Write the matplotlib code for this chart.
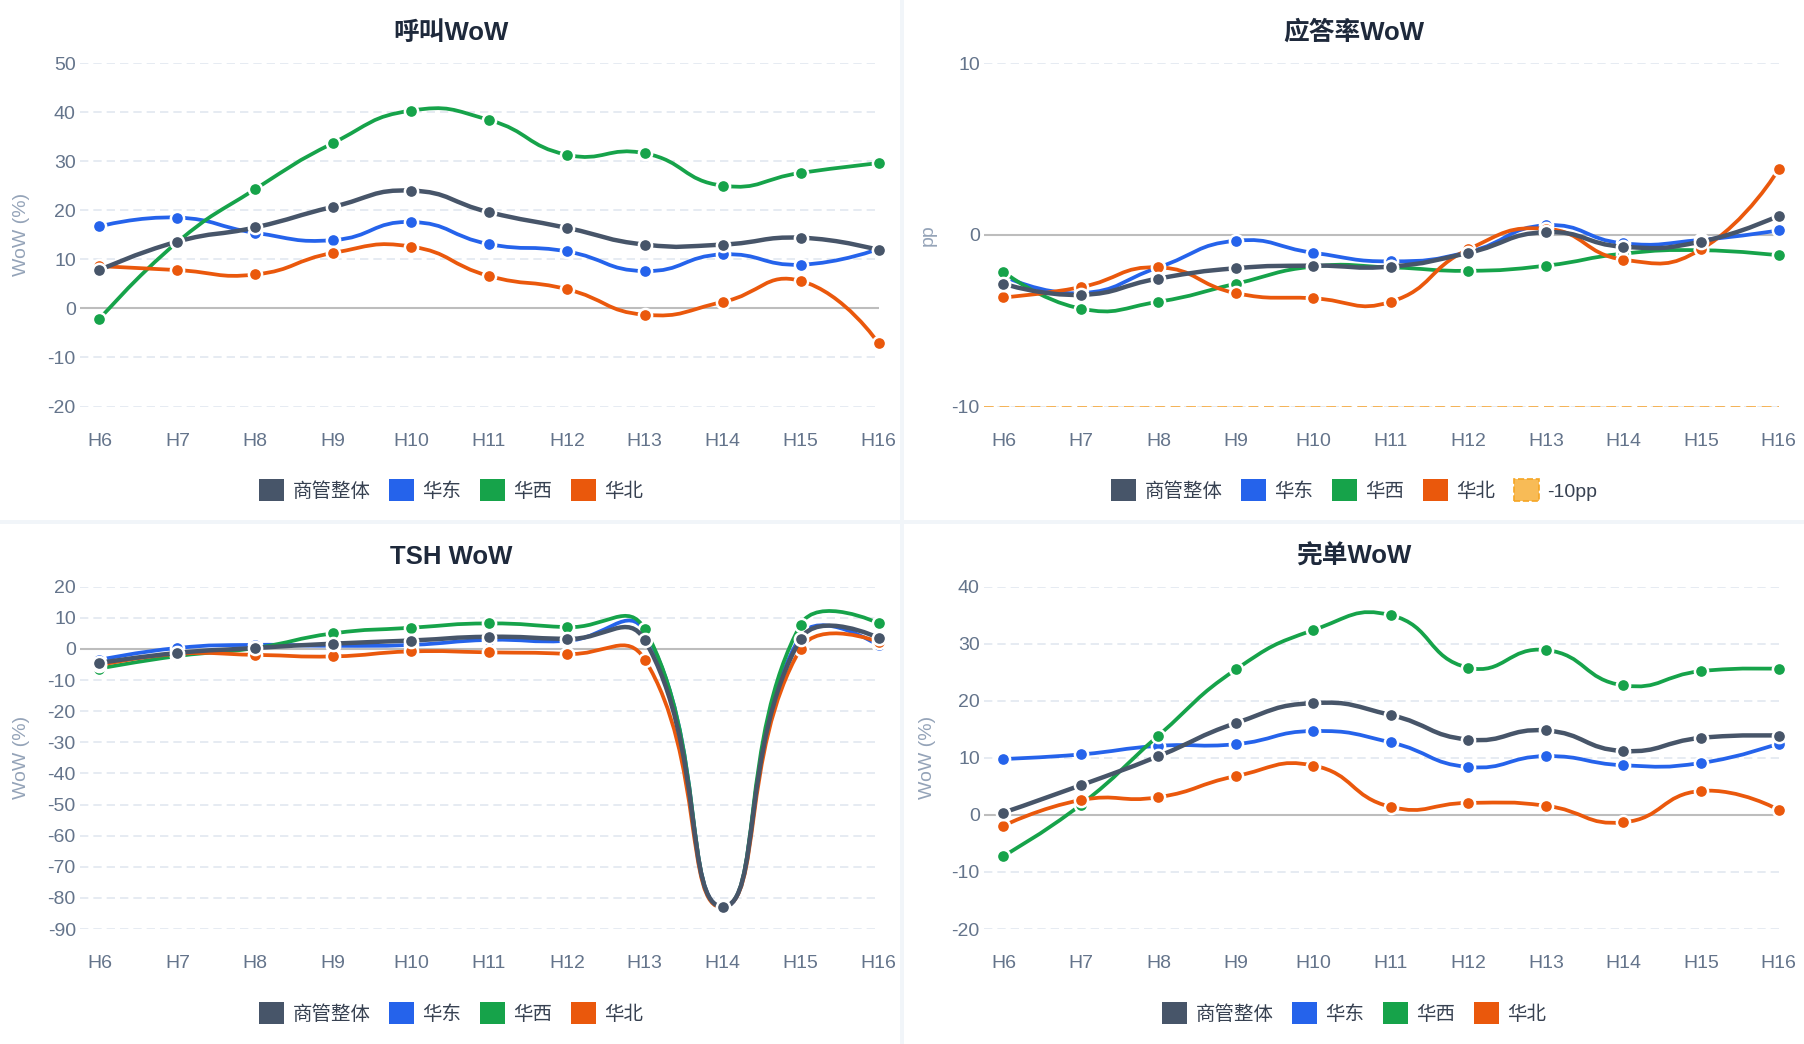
import numpy as np
import matplotlib
matplotlib.use('Agg')
import matplotlib.pyplot as plt
from matplotlib.path import Path
from matplotlib.patches import PathPatch, Patch, Rectangle

plt.rcParams['font.family'] = ['Liberation Sans', 'Noto Sans CJK SC', 'DejaVu Sans']

hours = ['H6', 'H7', 'H8', 'H9', 'H10', 'H11', 'H12', 'H13', 'H14', 'H15', 'H16']
series_names = ['商管整体', '华东', '华西', '华北']

# 呼叫WoW
call_total = [7.8, 13.6, 16.5, 20.7, 24.0, 19.6, 16.4, 13.0, 13.0, 14.4, 11.9]
call_east = [16.7, 18.5, 15.4, 13.9, 17.6, 13.1, 11.6, 7.6, 11.0, 8.9, 12.1]
call_west = [-2.2, 13.5, 24.3, 33.7, 40.3, 38.4, 31.3, 31.6, 25.0, 27.6, 29.6]
call_north = [8.6, 7.8, 6.9, 11.3, 12.6, 6.6, 3.9, -1.3, 1.3, 5.6, -7.1]

# 应答率WoW (pp)
ans_total = [-2.85, -3.5, -2.55, -1.95, -1.8, -1.85, -1.05, 0.15, -0.7, -0.4, 1.1]
ans_east = [-2.4, -3.4, -1.9, -0.35, -1.05, -1.55, -1.0, 0.55, -0.5, -0.3, 0.25]
ans_west = [-2.15, -4.3, -3.9, -2.85, -1.85, -1.9, -2.1, -1.8, -1.1, -0.9, -1.2]
ans_north = [-3.65, -3.05, -1.9, -3.4, -3.7, -3.9, -0.85, 0.35, -1.45, -0.85, 3.8]
ans_threshold = -10

# TSH WoW
tsh_total = [-4.5, -1.3, 0.3, 1.7, 2.7, 3.9, 3.2, 2.8, -82.8, 3.2, 3.6]
tsh_east = [-3.5, 0.3, 1.3, 1.0, 1.3, 2.9, 2.6, 5.6, -83.0, 4.2, 1.2]
tsh_west = [-6.3, -2.3, 0.3, 5.0, 6.8, 8.2, 7.0, 6.3, -83.0, 7.8, 8.3]
tsh_north = [-5.2, -1.6, -1.9, -2.4, -0.8, -1.1, -1.6, -3.4, -83.0, 0.1, 2.3]

# 完单WoW
done_total = [0.4, 5.2, 10.3, 16.1, 19.6, 17.5, 13.2, 14.8, 11.2, 13.5, 13.9]
done_east = [9.8, 10.6, 12.1, 12.4, 14.7, 12.7, 8.4, 10.3, 8.7, 9.1, 12.5]
done_west = [-7.2, 1.8, 13.9, 25.5, 32.4, 35.0, 25.8, 28.9, 22.7, 25.2, 25.6]
done_north = [-1.9, 2.6, 3.1, 6.8, 8.65, 1.4, 2.1, 1.6, -1.3, 4.2, 0.9]

colors = ['#475569', '#2563eb', '#16a34a', '#ea580c']
thr_color = '#f6a83a'
tick_color = '#64748b'
label_color = '#94a3b8'
title_color = '#1e293b'

W, H = 1804, 1044
fig = plt.figure(figsize=(W / 100, H / 100), dpi=100)
fig.patch.set_facecolor('#f1f5f9')

# white panels with a thin gap between them
for (x0, y0, x1, y1) in [(0, 0, 900, 520), (904, 0, W, 520), (0, 524, 900, H), (904, 524, W, H)]:
    fig.add_artist(Rectangle((x0 / W, 1 - y1 / H), (x1 - x0) / W, (y1 - y0) / H,
                             transform=fig.transFigure, facecolor='white', edgecolor='none', zorder=0))


def smooth_line(ax, ys, color, lw, z, smooth=0.5):
    # echarts-like bezier smoothing, computed in pixel space
    xs = np.arange(len(ys))
    pts = ax.transData.transform(np.column_stack([xs, ys]))
    n = len(pts)
    verts = [pts[0]]
    codes = [Path.MOVETO]
    cp0 = pts[0]
    for i in range(1, n):
        p = pts[i]
        if i < n - 1:
            prev, nxt = pts[i - 1], pts[i + 1]
            v = nxt - prev
            l0 = np.hypot(*(p - prev))
            l1 = np.hypot(*(nxt - p))
            r = l1 / (l0 + l1)
            ncp = p - v * smooth * (1 - r)
            after = p + v * smooth * r
        else:
            ncp = p
            after = p
        verts += [cp0, ncp, p]
        codes += [Path.CURVE4] * 3
        cp0 = after
    verts = ax.transData.inverted().transform(np.array(verts))
    ax.add_patch(PathPatch(Path(verts, codes), fill=False, edgecolor=color, lw=lw,
                           zorder=z, capstyle='round', joinstyle='round'))
    ax.plot(xs, ys, 'o', ms=9.5, mfc=color, mec='white', mew=1.8, zorder=z + 0.5, clip_on=False)


panels = [
    dict(title='呼叫WoW', data=[call_total, call_east, call_west, call_north], yt=range(-20, 51, 10),
         ylabel='WoW (%)', box=(80, 878.5, 63, 406.5), tx=451, ty=33, leg_y=490),
    dict(title='应答率WoW', data=[ans_total, ans_east, ans_west, ans_north], yt=range(-10, 11, 10),
         ylabel='pp', box=(984, 1778.5, 63, 406.5), tx=1354, ty=33, leg_y=490, thr=ans_threshold),
    dict(title='TSH WoW', data=[tsh_total, tsh_east, tsh_west, tsh_north], yt=range(-90, 21, 10),
         ylabel='WoW (%)', box=(80, 878.5, 586.7, 929), tx=451, ty=557, leg_y=1013),
    dict(title='完单WoW', data=[done_total, done_east, done_west, done_north], yt=range(-20, 41, 10),
         ylabel='WoW (%)', box=(984, 1778.5, 586.7, 929), tx=1354, ty=557, leg_y=1013),
]

for pn in panels:
    x0, x1, y0, y1 = pn['box']
    ax = fig.add_axes([x0 / W, 1 - y1 / H, (x1 - x0) / W, (y1 - y0) / H])
    ax.set_facecolor('none')
    yt = list(pn['yt'])
    ax.set_xlim(-0.25, len(hours) - 1)
    ax.set_ylim(yt[0], yt[-1])
    for s in ax.spines.values():
        s.set_visible(False)
    ax.set_yticks(yt)
    ax.set_yticklabels([str(v) for v in yt])
    ax.set_xticks(range(len(hours)))
    ax.set_xticklabels(hours)
    ax.tick_params(axis='both', length=0, labelsize=14, colors=tick_color)
    ax.tick_params(axis='y', pad=3)
    ax.tick_params(axis='x', pad=19)
    for v in yt:
        if v == 0:
            ax.axhline(0, color='#bdbdbd', lw=1.5, zorder=1)
        else:
            ax.axhline(v, color='#e2e8f0', lw=1.2, ls=(0, (5, 3)), zorder=1)
    if 'thr' in pn:
        ax.axhline(pn['thr'], color=thr_color, lw=1.4, ls=(0, (5, 3)), alpha=0.85, zorder=1.5)
    ax.set_ylabel(pn['ylabel'], fontsize=14, color=label_color, va='center')
    ax.yaxis.set_label_coords(((22 if x0 < 900 else 928) - x0) / (x1 - x0), 0.5)

    zs = [10, 3, 4, 5]
    lws = [3.2, 2.7, 2.7, 2.7]
    for order in [1, 2, 3, 0]:
        smooth_line(ax, pn['data'][order], colors[order], lws[order], zs[order])

    fig.text(pn['tx'] / W, 1 - pn['ty'] / H, pn['title'], ha='center', va='center',
             fontsize=18.5, fontweight='bold', color=title_color)

    handles = [Patch(facecolor=c, edgecolor='none') for c in colors]
    names = list(series_names)
    if 'thr' in pn:
        handles.append(Patch(facecolor='#f8bb56', edgecolor='#f5a524', linestyle='--', lw=1.2))
        names.append('-10pp')
    fig.legend(handles, names, loc='center', bbox_to_anchor=(pn['tx'] / W, 1 - pn['leg_y'] / H),
               ncol=len(names), frameon=False, fontsize=14, handlelength=1.3, handleheight=1.3,
               handletextpad=0.42, columnspacing=0.95, labelcolor='#374151')

fig.savefig('out.png', dpi=100, facecolor=fig.get_facecolor())
